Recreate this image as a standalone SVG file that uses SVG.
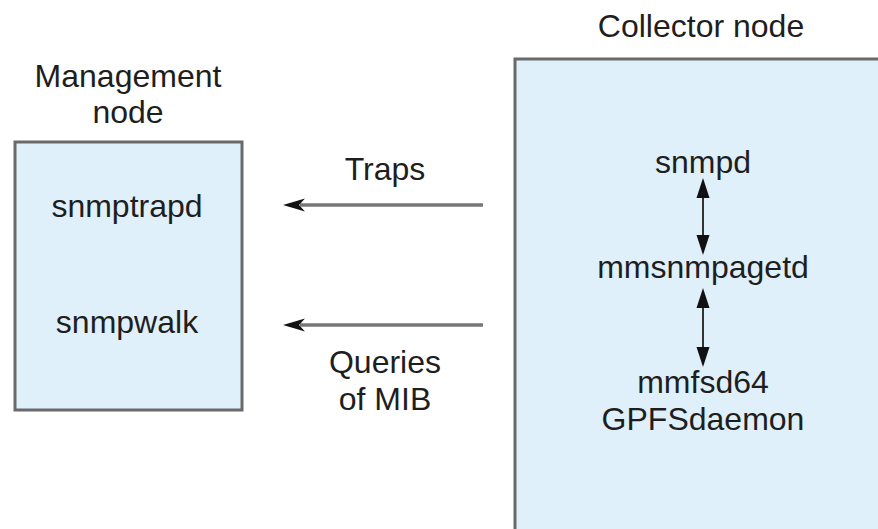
<svg xmlns="http://www.w3.org/2000/svg" width="878" height="529" viewBox="0 0 878 529">
<style>
.box{fill:#dff0fb;stroke:#6a6a6a;stroke-width:3}
.t{font-family:"Liberation Sans",Arial,sans-serif;font-size:32px;fill:#1e1e1e;text-anchor:middle}
.h{stroke:#777;stroke-width:3.5;fill:none}
.v{stroke:#333;stroke-width:2;fill:none}
.hd{fill:#111}
</style>
<rect width="878" height="529" fill="#fff"/>
<g id="management-node">
<text class="t" x="128" y="87">Management</text>
<text class="t" x="128" y="123">node</text>
<rect class="box" x="15" y="142" width="227" height="268"/>
<text class="t" x="127" y="217">snmptrapd</text>
<text class="t" x="127" y="333">snmpwalk</text>
</g>
<g id="collector-node">
<text class="t" x="701" y="37">Collector node</text>
<rect class="box" x="515" y="59" width="380" height="490"/>
<text class="t" x="703" y="173">snmpd</text>
<text class="t" x="703" y="278">mmsnmpagetd</text>
<text class="t" x="703" y="393">mmfsd64</text>
<text class="t" x="703" y="430">GPFSdaemon</text>
</g>
<g id="connectors">
<line class="h" x1="483" y1="205" x2="300" y2="205"/>
<path class="hd" d="M283,205 L305,198.5 L299,205 L305,211.5 Z"/>
<line class="h" x1="483" y1="325" x2="300" y2="325"/>
<path class="hd" d="M283,325 L305,318.5 L299,325 L305,331.5 Z"/>
<line class="v" x1="703" y1="190" x2="703" y2="243"/>
<path class="hd" d="M703,178 L696.5,198 L709.5,198 Z"/>
<path class="hd" d="M703,255 L696.5,235 L709.5,235 Z"/>
<line class="v" x1="703" y1="300" x2="703" y2="355"/>
<path class="hd" d="M703,288 L696.5,308 L709.5,308 Z"/>
<path class="hd" d="M703,367 L696.5,347 L709.5,347 Z"/>
<text class="t" x="385" y="180">Traps</text>
<text class="t" x="385" y="373">Queries</text>
<text class="t" x="385" y="410">of MIB</text>
</g>
</svg>
